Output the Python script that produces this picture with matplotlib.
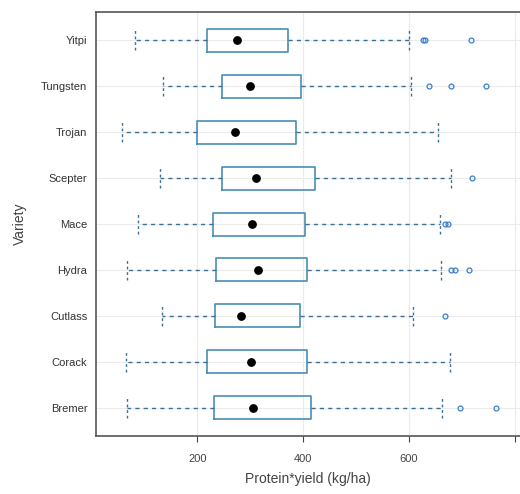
import matplotlib
matplotlib.use("Agg")
import matplotlib.pyplot as plt

plt.rcParams['font.family'] = ['Liberation Sans', 'DejaVu Sans']

varieties = ["Bremer", "Corack", "Cutlass", "Hydra", "Mace", "Scepter", "Trojan", "Tungsten", "Yitpi"]
whis_lo = [67, 65, 133, 67, 87, 130, 57, 135, 82]
q1 = [231, 218, 233, 235, 229, 246, 200, 246, 218]
median = [305, 302, 283, 315, 303, 310, 272, 299, 275]
q3 = [414, 407, 393, 408, 403, 423, 386, 395, 371]
whis_hi = [663, 678, 607, 661, 658, 680, 655, 604, 600]
outliers = [
    [696, 765],
    [],
    [668],
    [679, 687, 713],
    [668, 674],
    [718],
    [],
    [637, 680, 746],
    [626, 630, 716],
]
xticks = [200, 400, 600, 800]
xticklabels = ["200", "400", "600", ""]

fig = plt.figure(figsize=(5.2, 4.94), dpi=100)
ax = fig.add_axes([0.184, 0.1174, 0.816, 0.8583])

stats = []
for i, v in enumerate(varieties):
    stats.append(dict(label=v, whislo=whis_lo[i], q1=q1[i], med=median[i],
                      q3=q3[i], whishi=whis_hi[i], fliers=outliers[i]))

pos = list(range(1, len(varieties) + 1))
box_col = "#4a8db5"
ax.bxp(stats, positions=pos, orientation='horizontal', widths=0.5,
       capwidths=0.42, showfliers=True,
       boxprops=dict(color=box_col, linewidth=1.2),
       whiskerprops=dict(color="#3d6f94", linestyle=(0, (3, 3)), linewidth=1.0),
       capprops=dict(color="#3d6f94", linestyle=(0, (2, 2)), linewidth=1.0),
       medianprops=dict(linewidth=0),
       flierprops=dict(marker='o', markersize=3.5, markerfacecolor='none',
                       markeredgecolor="#3a80c8", markeredgewidth=0.9),
       zorder=3)
ax.scatter(median, pos, s=28, color='black', zorder=5)

ax.set_xlim(8, 809.5)
ax.set_ylim(0.39, 9.61)
ax.set_xticks(xticks)
ax.set_xticklabels(xticklabels, fontsize=8, color="#444444")
ax.set_yticks(pos)
ax.set_yticklabels(varieties, fontsize=8, color="#333333")
ax.tick_params(axis='y', length=0, pad=6)
ax.tick_params(axis='x', length=4, color="#444444", pad=9)
ax.grid(True, color="#ebebeb", linewidth=0.8, zorder=0)
ax.set_axisbelow(True)
for s in ['left', 'top', 'bottom']:
    ax.spines[s].set_color("#555555")
    ax.spines[s].set_linewidth(1.2)
ax.spines['right'].set_visible(False)
ax.set_xlabel("Protein*yield (kg/ha)", fontsize=10, color="#444444", labelpad=6)
ax.set_ylabel("Variety", fontsize=10, color="#444444", labelpad=10)

fig.savefig("out.png", dpi=100)
